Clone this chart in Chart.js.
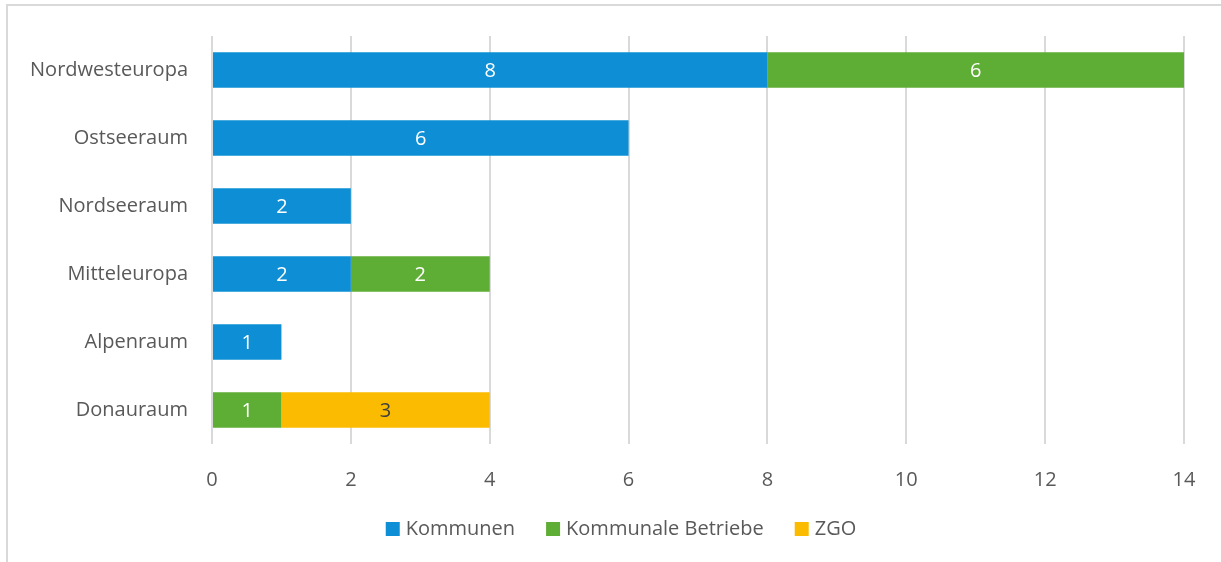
<!DOCTYPE html>
<html><head><meta charset="utf-8">
<script src="https://cdn.jsdelivr.net/npm/chart.js@4/dist/chart.umd.min.js"></script>
<style>
html,body{margin:0;padding:0;background:#fff;}
#wrap{position:relative;width:1221px;height:562px;}
#frame{position:absolute;left:6px;top:4px;right:-5px;bottom:-5px;border:2px solid #d9d9d9;box-sizing:border-box;}
canvas{position:absolute;left:0;top:0;}
</style></head>
<body>
<div id="wrap"><div id="frame"></div><canvas id="c" width="1221" height="562"></canvas></div>
<script>
const categories = ["Nordwesteuropa","Ostseeraum","Nordseeraum","Mitteleuropa","Alpenraum","Donauraum"];
const kommunen = [8,6,2,2,1,0];
const betriebe = [6,0,0,2,0,1];
const zgo = [0,0,0,0,0,3];
const seriesNames = ["Kommunen","Kommunale Betriebe","ZGO"];
const seriesColors = ['#0e8fd5','#5ead35','#fbbb00'];
const xTicks = [0,2,4,6,8,10,12,14];

const FONT = "'Open Sans', 'Noto Sans', sans-serif";
const FS = 20;
const labelPlugin = {
  id:'barLabels',
  afterDatasetsDraw(chart){
    const ctx = chart.ctx;
    ctx.save();
    ctx.font = FS + "px " + FONT;
    ctx.textAlign='center'; ctx.textBaseline='middle';
    chart.data.datasets.forEach((ds,i)=>{
      const meta = chart.getDatasetMeta(i);
      meta.data.forEach((bar,j)=>{
        const v = ds.data[j];
        if(!v) return;
        ctx.fillStyle = ds.labelColor;
        const cx = (bar.x + bar.base)/2;
        ctx.fillText(String(v), cx, bar.y+1);
      });
    });
    ctx.restore();
  }
};
const legendPlugin = {
  id:'customLegend',
  afterDraw(chart){
    const ctx = chart.ctx;
    ctx.save();
    ctx.font = FS + "px " + FONT;
    const box=14, gapT=6, gapI=31;
    const widths = seriesNames.map(n=>box+gapT+ctx.measureText(n).width);
    const total = widths.reduce((a,b)=>a+b,0)+gapI*(seriesNames.length-1);
    let x = 621 - total/2;
    const cy = 529;
    ctx.textBaseline='middle'; ctx.textAlign='left';
    seriesNames.forEach((n,i)=>{
      ctx.fillStyle = seriesColors[i];
      ctx.fillRect(x, cy-7, box, box);
      ctx.fillStyle = '#595959';
      ctx.fillText(n, x+box+gapT, cy);
      x += widths[i]+gapI;
    });
    ctx.restore();
  }
};

new Chart(document.getElementById('c'),{
  type:'bar',
  data:{
    labels:categories,
    datasets:[
      {label:seriesNames[0],data:kommunen,backgroundColor:seriesColors[0],labelColor:'#ffffff'},
      {label:seriesNames[1],data:betriebe,backgroundColor:seriesColors[1],labelColor:'#ffffff'},
      {label:seriesNames[2],data:zgo,backgroundColor:seriesColors[2],labelColor:'#404040'}
    ]
  },
  options:{
    indexAxis:'y',
    responsive:false,
    animation:false,
    devicePixelRatio:1,
    layout:{padding:{left:7,right:37,top:34,bottom:0}},
    datasets:{bar:{barPercentage:0.52,categoryPercentage:1.0}},
    scales:{
      x:{
        stacked:true,min:0,max:14,
        afterBuildTicks(axis){axis.ticks = xTicks.map(v=>({value:v}));},
        grid:{color:'#d9d9d9',lineWidth:2,drawTicks:false,tickLength:0},
        border:{display:false},
        ticks:{font:{family:FONT,size:FS},color:'#595959',padding:24},
        afterFit(axis){axis.height=118;}
      },
      y:{
        stacked:true,
        grid:{display:false,drawTicks:false},
        border:{display:false},
        ticks:{font:{family:FONT,size:FS},color:'#595959',padding:24},
        afterFit(axis){axis.width=205;}
      }
    },
    plugins:{
      legend:{display:false},
      tooltip:{enabled:false}
    }
  },
  plugins:[labelPlugin, legendPlugin]
});
</script>
</body></html>
